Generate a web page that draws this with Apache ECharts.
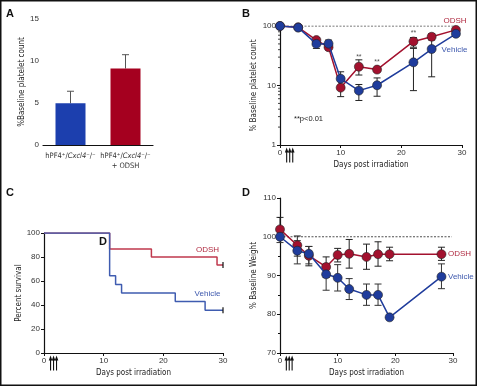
<!DOCTYPE html>
<html>
<head>
<meta charset="utf-8">
<script src="https://cdn.jsdelivr.net/npm/echarts@6/dist/echarts.min.js"></script>
<style>html,body{margin:0;padding:0;background:#fff}#main{width:477px;height:386px}</style>
</head>
<body>
<div id="main"></div>
<script>
// ---- panel A: platelet count bars
const groupsA = ['hPF4⁺/Cxcl4⁻/⁻', 'hPF4⁺/Cxcl4⁻/⁻\n+ ODSH'];
const meanA = [4.96, 9.1];
const upperA = [6.4, 10.75];

// ---- panel B: platelet count over time (log)
const daysB = [0, 3, 6, 8, 10, 13, 16, 22, 25, 29];
const odshB = [100, 95, 58, 44, 9.2, 20.7, 18.5, 55, 66, 86];
const odshBLo = [100, 95, 52, 40, 6.5, 15, 17, 44, 58, 80];
const odshBHi = [100, 95, 64, 49, 12, 27, 20, 64, 74, 92];
const vehB = [100, 94, 50, 50.5, 13, 8.2, 10.1, 24.5, 41, 74];
const vehBLo = [100, 94, 42, 44, 10, 5.6, 6.6, 8.2, 14, 68];
const vehBHi = [100, 94, 56, 58, 17, 10.4, 13.4, 42, 62, 80];
const starDaysB = [13, 16, 22];
const starValsB = [30, 24.5, 76];
const logMinorB = [2, 3, 4, 5, 6, 7, 8, 9, 20, 30, 40, 50, 60, 70, 80, 90];

// ---- panel C: survival
const survOdshDays = [0, 11, 18, 29, 30];
const survOdsh = [100, 86.7, 80, 73.3, 73.3];
const survVehDays = [0, 11, 12, 13, 22, 27, 30];
const survVeh = [100, 64.3, 57.1, 50, 42.9, 35.7, 35.7];

// ---- panel D: body weight
const daysD = [0, 3, 5, 8, 10, 12, 15, 17, 19, 28];
const odshD = [101.9, 97.8, 95.1, 92.2, 95.3, 95.6, 94.8, 95.5, 95.5, 95.5];
const odshDLo = [100, 95, 92.5, 89.5, 93.5, 91.9, 91.6, 92.4, 93.8, 93.9];
const odshDHi = [105, 100.2, 97.5, 94.8, 97, 99.3, 98.1, 98.7, 97.3, 97.3];
const vehD = [100, 96.4, 95.6, 90.3, 89.4, 86.5, 85, 85, 79.2, 89.7];
const vehDLo = [98.5, 93, 93, 86.2, 86, 83.8, 82.3, 82.3, 79.2, 86.6];
const vehDHi = [101.5, 99, 97.5, 93, 92.8, 89.2, 87.8, 87.8, 79.2, 93];

const baseline = 100;
const arrowDays = [1.1, 1.6, 2.1];

const FONT = "'Liberation Sans Narrow','DejaVu Sans Condensed','Liberation Sans',sans-serif";
const RED = '#a3112e', BLUE = '#1f3c9c';

const zip = (xs, ys) => xs.map((x, i) => [x, ys[i]]);
const zip3 = (xs, a, b) => xs.map((x, i) => [x, a[i], b[i]]);

function errBar(color, lowerCap) {
  return function (params, api) {
    const x = api.value(0);
    const lo = api.coord([x, api.value(1)]);
    const hi = api.coord([x, api.value(2)]);
    const st = { stroke: color, lineWidth: 1 };
    const kids = [
      { type: 'line', shape: { x1: lo[0], y1: lo[1], x2: hi[0], y2: hi[1] }, style: st },
      { type: 'line', shape: { x1: hi[0] - 3.5, y1: hi[1], x2: hi[0] + 3.5, y2: hi[1] }, style: st }
    ];
    if (lowerCap) kids.push({ type: 'line', shape: { x1: lo[0] - 3.5, y1: lo[1], x2: lo[0] + 3.5, y2: lo[1] }, style: st });
    return { type: 'group', children: kids };
  };
}

function axis(extra) {
  return Object.assign({
    axisLine: { lineStyle: { color: '#111', width: 1.2 } },
    axisTick: { length: 3, lineStyle: { color: '#111' } },
    axisLabel: { color: '#333', fontSize: 8, margin: 4, fontFamily: 'Liberation Sans, sans-serif' },
    splitLine: { show: false },
    nameLocation: 'middle',
    nameTextStyle: { color: '#222', fontSize: 8, fontFamily: FONT }
  }, extra);
}

function lineSeries(x, y, data, color, z) {
  return {
    type: 'line', xAxisIndex: x, yAxisIndex: y, data: data, z: z,
    symbol: 'circle', symbolSize: 9,
    itemStyle: { color: color, borderColor: '#222', borderWidth: 0.6 },
    lineStyle: { color: color, width: 1.5 }
  };
}

function errSeries(x, y, data, color, lowerCap) {
  return {
    type: 'custom', xAxisIndex: x, yAxisIndex: y, z: 1,
    encode: { x: 0, y: [1, 2] }, renderItem: errBar(color, lowerCap), data: data
  };
}

function refLine(x, y, end) {
  return {
    type: 'line', xAxisIndex: x, yAxisIndex: y, symbol: 'none', z: 0,
    data: [[0, baseline], [end, baseline]],
    lineStyle: { color: '#222', width: 0.8, type: [2, 1.5] }
  };
}

const chart = echarts.init(document.getElementById('main'));

const option = {
  animation: false,
  grid: [
    { left: 43, top: 19, width: 110, height: 126 },
    { left: 280, top: 26, width: 182, height: 119 },
    { left: 44, top: 233, width: 179, height: 120 },
    { left: 280, top: 198, width: 173, height: 155 }
  ],
  xAxis: [
    axis({
      gridIndex: 0, type: 'category', data: groupsA,
      axisTick: { length: 3, alignWithLabel: true, lineStyle: { color: '#111' } },
      axisLabel: {
        margin: 6, interval: 0, lineHeight: 10,
        formatter: v => '{t|' + v.replace('Cxcl4', '}{i|Cxcl4}{t|').replace('\n', '}\n{t|') + '}',
        rich: {
          t: { fontSize: 7.5, color: '#333', fontFamily: FONT },
          i: { fontSize: 7.5, color: '#333', fontFamily: FONT, fontStyle: 'italic' }
        }
      }
    }),
    axis({ gridIndex: 1, type: 'value', min: 0, max: 30, interval: 10, name: 'Days post irradiation', nameGap: 16 }),
    axis({ gridIndex: 2, type: 'value', min: 0, max: 30, interval: 10, name: 'Days post irradiation', nameGap: 16 }),
    axis({ gridIndex: 3, type: 'value', min: 0, max: 30, interval: 10, name: 'Days post irradiation', nameGap: 16 })
  ],
  yAxis: [
    axis({ gridIndex: 0, type: 'value', min: 0, max: 15, interval: 5, name: '%Baseline platelet count', nameGap: 17 }),
    axis({ gridIndex: 1, type: 'log', logBase: 10, min: 1, max: 100, name: '% Baseline platelet count', nameGap: 22 }),
    axis({ gridIndex: 2, type: 'value', min: 0, max: 100, interval: 20, name: 'Percent survival', nameGap: 21 }),
    axis({
      gridIndex: 3, type: 'value', min: 70, max: 110, interval: 10, name: '% Baseline Weight', nameGap: 22,
      minorTick: { show: true, splitNumber: 2, length: 2, lineStyle: { color: '#111' } }
    })
  ],
  series: [
    // A
    {
      type: 'bar', xAxisIndex: 0, yAxisIndex: 0, barWidth: 30, z: 2,
      data: meanA.map((v, i) => ({ value: v, itemStyle: { color: i === 0 ? '#1c3fae' : '#a5001f' } }))
    },
    errSeries(0, 0, meanA.map((v, i) => [i, v, upperA[i]]), '#555', false),
    // B
    refLine(1, 1, 29),
    errSeries(1, 1, zip3(daysB, odshBLo, odshBHi), '#222', true),
    errSeries(1, 1, zip3(daysB, vehBLo, vehBHi), '#222', true),
    lineSeries(1, 1, zip(daysB, odshB), RED, 3),
    lineSeries(1, 1, zip(daysB, vehB), BLUE, 4),
    {
      type: 'scatter', xAxisIndex: 1, yAxisIndex: 1, symbolSize: 0, z: 5,
      data: zip(starDaysB, starValsB),
      label: { show: true, formatter: '**', position: 'inside', fontSize: 7, color: '#222' }
    },
    {
      type: 'custom', xAxisIndex: 1, yAxisIndex: 1, z: 1,
      encode: { y: 0 }, data: logMinorB.map(v => [v]),
      renderItem: function (params, api) {
        const p = api.coord([0, api.value(0)]);
        return { type: 'line', shape: { x1: p[0] - 2, y1: p[1], x2: p[0], y2: p[1] }, style: { stroke: '#111', lineWidth: 0.8 } };
      }
    },
    // C
    {
      type: 'line', xAxisIndex: 2, yAxisIndex: 2, step: 'end', symbol: 'none', z: 2,
      data: zip(survOdshDays, survOdsh), lineStyle: { color: '#c0394d', width: 1.5 }
    },
    {
      type: 'line', xAxisIndex: 2, yAxisIndex: 2, step: 'end', symbol: 'none', z: 3,
      data: zip(survVehDays, survVeh), lineStyle: { color: '#3f5cb0', width: 1.5 }
    },
    {
      type: 'scatter', xAxisIndex: 2, yAxisIndex: 2, symbol: 'rect', symbolSize: [1.5, 6], z: 4,
      itemStyle: { color: '#111' },
      data: [[survOdshDays[survOdshDays.length - 1], survOdsh[survOdsh.length - 1]],
             [survVehDays[survVehDays.length - 1], survVeh[survVeh.length - 1]]]
    },
    // D
    refLine(3, 3, 29.8),
    errSeries(3, 3, zip3(daysD, odshDLo, odshDHi), '#222', true),
    errSeries(3, 3, zip3(daysD, vehDLo, vehDHi), '#333', true),
    lineSeries(3, 3, zip(daysD, odshD), RED, 3),
    lineSeries(3, 3, zip(daysD, vehD), BLUE, 4)
  ]
};
chart.setOption(option);

// annotations
const txt = (x, y, s, o) => ({
  type: 'text', x: x, y: y, z: 50,
  style: Object.assign({ text: s, fontSize: 8, fontFamily: 'Liberation Sans, sans-serif', fill: '#222', verticalAlign: 'middle' }, o || {})
});
const bold = { fontSize: 11, fontWeight: 'bold', fill: '#111' };
const redT = { fill: '#b02a40', align: 'center' };
const blueT = { fill: '#3d58ad', align: 'center' };

const gfx = [
  { type: 'rect', shape: { x: 0.75, y: 0.75, width: 475.5, height: 384.5 }, style: { fill: null, stroke: '#111', lineWidth: 1.5 }, z: 60 },
  txt(6, 13.5, 'A', bold), txt(242, 13.5, 'B', bold), txt(6, 193, 'C', bold), txt(242, 193, 'D', bold),
  txt(99, 241.5, 'D', bold),
  txt(294, 118.5, '**p<0.01', { fontSize: 7.5 }),
  txt(455, 21, 'ODSH', redT), txt(454.5, 50, 'Vehicle', blueT),
  txt(207.5, 250, 'ODSH', redT), txt(207.5, 294, 'Vehicle', blueT),
  txt(448, 254, 'ODSH', { fill: '#b02a40' }), txt(448, 277, 'Vehicle', { fill: '#3d58ad' })
];

[1, 2, 3].forEach(g => {
  const bottom = chart.convertToPixel({ yAxisIndex: g }, g === 1 ? 1 : (g === 2 ? 0 : 70));
  arrowDays.forEach(d => {
    const x = chart.convertToPixel({ xAxisIndex: g }, d);
    const tip = bottom + 2.5;
    gfx.push({ type: 'line', shape: { x1: x, y1: tip + 4, x2: x, y2: tip + 15 }, style: { stroke: '#111', lineWidth: 1.1 }, z: 50 });
    gfx.push({ type: 'polygon', shape: { points: [[x, tip], [x - 1.8, tip + 5], [x + 1.8, tip + 5]] }, style: { fill: '#111' }, z: 50 });
  });
});

chart.setOption({ graphic: gfx });
</script>
</body>
</html>
